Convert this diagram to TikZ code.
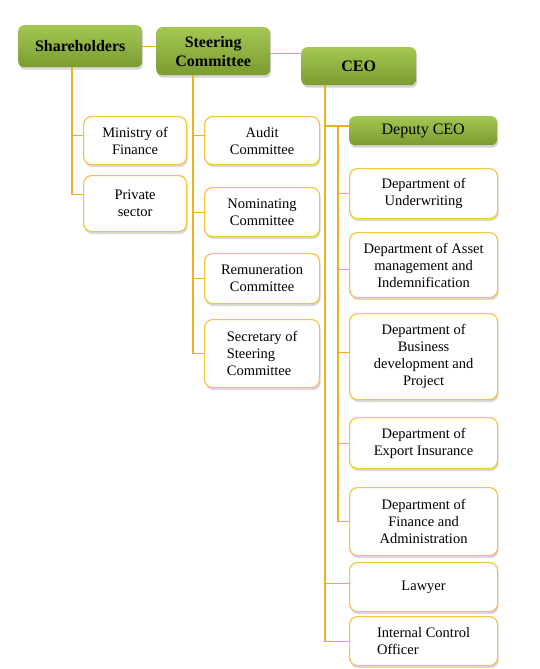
\documentclass[tikz,border=0pt]{standalone}
\usepackage{fontspec}
\setmainfont{Liberation Serif}
\usetikzlibrary{shadows}
\definecolor{lnc}{RGB}{238,176,28}
\definecolor{bdc}{RGB}{244,196,60}
\definecolor{gtop}{RGB}{163,199,82}
\definecolor{gbot}{RGB}{122,156,48}
\begin{document}
\begin{tikzpicture}[x=1pt,y=-1pt,
  gbox/.style={rectangle, rounded corners=6pt, top color=gtop, bottom color=gbot, draw=none,
    drop shadow={shadow xshift=1pt,shadow yshift=-2.5pt,opacity=0.35},
    inner sep=0pt, align=center, anchor=north west, font=\fontsize{16}{19}\selectfont\bfseries},
  wbox/.style={rectangle, rounded corners=8pt, fill=white, draw=bdc, line width=1.2pt,
    drop shadow={shadow xshift=1pt,shadow yshift=-2.5pt,opacity=0.3},
    inner sep=0pt, anchor=north west, align=center, font=\fontsize{14.5}{17}\selectfont},
  link/.style={draw=lnc, line width=1.2pt}]
\useasboundingbox (0,0) rectangle (539,669);

% top level
\node[gbox, minimum width=124pt, minimum height=42pt] (sh) at (18,25) {Shareholders};
\node[gbox, minimum width=114pt, minimum height=48pt] (st) at (156,27) {Steering\\Committee};
\node[gbox, minimum width=115pt, minimum height=38pt] (ceo) at (301,47) {CEO};
\node[gbox, minimum width=148pt, minimum height=29pt, font=\fontsize{16}{19}\selectfont] (dep) at (349,116) {Deputy CEO};

% shareholders
\node[wbox, minimum width=103pt, minimum height=48pt] (mof) at (83,116) {Ministry of\\Finance};
\node[wbox, minimum width=103pt, minimum height=56pt] (ps) at (83,175) {Private\\sector};

% steering committee
\node[wbox, minimum width=115pt, minimum height=48pt] (aud) at (204,116) {Audit\\Committee};
\node[wbox, minimum width=115pt, minimum height=49pt] (nom) at (204,187) {Nominating\\Committee};
\node[wbox, minimum width=115pt, minimum height=50pt] (rem) at (204,253) {Remuneration\\Committee};
\node[wbox, minimum width=115pt, minimum height=68pt, align=left] (sec) at (204,319) {Secretary of\\Steering\\Committee};

% CEO
\node[wbox, minimum width=148pt, minimum height=50pt] (und) at (349,168) {Department of\\Underwriting};
\node[wbox, minimum width=148pt, minimum height=65pt] (ast) at (349,232) {Department of Asset\\management and\\Indemnification};
\node[wbox, minimum width=148pt, minimum height=86pt] (bus) at (349,313) {Department of\\Business\\development and\\Project};
\node[wbox, minimum width=148pt, minimum height=51pt] (exq) at (349,417) {Department of\\Export Insurance};
\node[wbox, minimum width=148pt, minimum height=68pt] (fin) at (349,487) {Department of\\Finance and\\Administration};
\node[wbox, minimum width=148pt, minimum height=49pt] (law) at (349,562) {Lawyer};
\node[wbox, minimum width=148pt, minimum height=49pt, align=left] (ico) at (349,616) {Internal Control\\Officer};

% connectors
\draw[link] (sh.east) -- (sh.east -| st.west);
\draw[link] ([yshift=-2pt]st.east) -- ([yshift=-2pt]st.east -| ceo.west);

\coordinate (t1) at (72,67);
\coordinate (t2) at (193,75);
\coordinate (t3) at (325,85);
\coordinate (t4) at (338,126);

\draw[link] (t1) |- ([yshift=9pt]ps.west);
\draw[link] ([yshift=5pt]t1 |- mof.west) -- ([yshift=5pt]mof.west);

\draw[link] (t2) |- (sec.west);
\draw[link] ([yshift=5pt]t2 |- aud.west) -- ([yshift=5pt]aud.west);
\draw[link] (t2 |- nom.west) -- (nom.west);
\draw[link] (t2 |- rem.west) -- (rem.west);

\draw[link] (t3) |- (ico.west);
\draw[link] (t3 |- t4) -- (t4 -| dep.west);
\draw[link] ([yshift=4pt]t3 |- law.west) -- ([yshift=4pt]law.west);

\draw[link] (t4) -- (t4 |- fin.west);
\draw[link] (t4 |- und.west) -- (und.west);
\draw[link] ([yshift=-4pt]t4 |- ast.west) -- ([yshift=-4pt]ast.west);
\draw[link] ([yshift=4pt]t4 |- bus.west) -- ([yshift=4pt]bus.west);
\draw[link] (t4 |- exq.west) -- (exq.west);
\draw[link] (t4 |- fin.west) -- (fin.west);
\end{tikzpicture}
\end{document}
